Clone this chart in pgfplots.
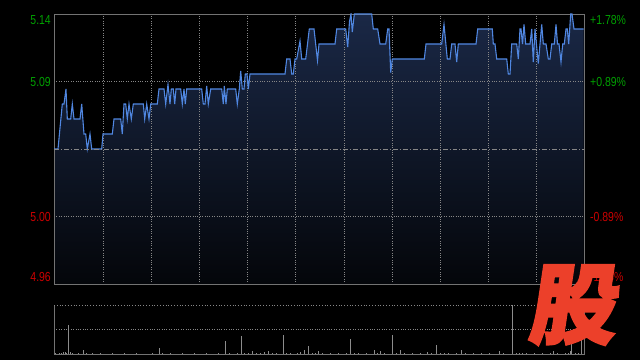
\documentclass[border=0pt]{standalone}
\usepackage{pgfplots}
\pgfplotsset{compat=1.18}
\usepgfplotslibrary{fillbetween}
\usepackage{fontspec}
\setmainfont{Liberation Sans}
\newfontfamily\cjk{Noto Sans CJK SC}[FakeBold=2.5]
\definecolor{upgreen}{RGB}{0,160,0}
\definecolor{downred}{RGB}{204,0,0}
\definecolor{pline}{RGB}{80,135,225}
\definecolor{gridc}{RGB}{135,135,135}
\definecolor{framec}{RGB}{115,115,115}
\definecolor{fillTop}{RGB}{26,40,70}
\definecolor{fillBot}{RGB}{4,6,10}
\definecolor{logored}{RGB}{236,64,42}
\definecolor{volc}{RGB}{140,140,140}
\pagecolor{black}

\begin{document}
\begin{tikzpicture}[x=1bp,y=1bp]
\begin{axis}[
  at={(54bp,76bp)}, anchor=south west,
  width=530bp, height=270bp, scale only axis,
  xmin=0, xmax=530, ymin=4.955, ymax=5.135,
  axis line style={framec, line width=0.8pt},
  xtick={49.3,97.7,145.3,193.3,241.7,290,338.3,386.3,434.3,482.7},
  xticklabels={}, ytick={5.00,5.09}, yticklabels={},
  major tick length=0pt,
  grid=major, grid style={gridc, dotted, line width=0.8pt},
]
\addplot[pline, line width=1.1pt, name path=P] coordinates {
(0,5.045) (4,5.045) (8.3,5.075) (10,5.075) (12,5.085) (13.3,5.065) (16.7,5.065)
(18.3,5.075) (20,5.065) (26,5.065) (27.7,5.075) (30,5.055) (31.7,5.055) (33.3,5.045)
(36,5.055) (37.7,5.045) (47.7,5.045) (49,5.055) (58.3,5.055) (60,5.065) (66.7,5.065)
(68.3,5.055) (70,5.075) (71.7,5.075) (73.3,5.065) (75,5.075) (77.3,5.065) (79.3,5.075)
(89.3,5.075) (90.7,5.065) (92.7,5.075) (95,5.065) (96.7,5.075) (103.3,5.075) (105,5.085)
(110,5.085) (111.7,5.075) (114,5.088) (116,5.075) (117.3,5.085) (119.3,5.085) (120.7,5.075)
(122,5.085) (126.7,5.085) (128.3,5.075) (130,5.085) (131.3,5.075) (132.7,5.085) (147.7,5.085)
(149.3,5.075) (151,5.075) (152.7,5.087) (154.3,5.075) (156.7,5.085) (167.7,5.085) (169.3,5.075)
(170.3,5.087) (172,5.075) (173.3,5.085) (181.7,5.085) (183.3,5.075) (185.3,5.085) (186.7,5.097)
(188.3,5.085) (190,5.085) (191.3,5.095) (193,5.095) (194.3,5.085) (196,5.095) (231,5.095)
(232.7,5.105) (236,5.105) (237.7,5.095) (239.3,5.095) (241,5.105) (242.7,5.105) (246,5.117)
(247.7,5.105) (251.7,5.105) (255.3,5.125) (260,5.125) (263.5,5.104) (265,5.115) (281,5.115)
(282.7,5.125) (291.7,5.125) (293.7,5.113) (295.5,5.130) (297,5.135) (298.3,5.123) (300.3,5.135)
(317.7,5.135) (319.3,5.125) (323.7,5.125) (326,5.115) (331.7,5.115) (333.7,5.125) (335,5.125)
(336.7,5.096) (338.3,5.105) (370.3,5.105) (372,5.115) (387.7,5.115) (390,5.128) (393.3,5.105)
(396,5.105) (397.7,5.115) (401,5.115) (402.7,5.103) (404.3,5.115) (422,5.115) (423.7,5.125)
(438.3,5.125) (439.3,5.115) (441,5.115) (442.7,5.105) (452.7,5.105) (454.3,5.095) (456,5.095)
(457.7,5.115) (462.7,5.115) (464.3,5.105) (466,5.125) (467,5.125) (468.5,5.115) (470,5.128)
(471.7,5.115) (476,5.115) (477.7,5.125) (479.3,5.103) (481,5.125) (484.3,5.102) (487.7,5.128)
(489.3,5.115) (492,5.115) (494.3,5.105) (496,5.105) (497.7,5.115) (500.3,5.115) (502,5.128)
(503.5,5.115) (505,5.115) (507,5.103) (508.7,5.115) (510.3,5.115) (512,5.125) (513.3,5.125)
(514.7,5.115) (516.7,5.135) (518,5.135) (520,5.125) (529.5,5.125)
};
\addplot[draw=none, name path=B] coordinates {(0,4.955) (529.5,4.955)};
\addplot[top color=fillTop, bottom color=fillBot, draw=none]
  fill between[of=P and B, on layer=axis background];
\draw[gridc, line width=0.9pt, dash pattern=on 5pt off 2pt on 1pt off 2pt]
  (axis cs:0,5.045) -- (axis cs:530,5.045);
\end{axis}

\begin{axis}[
  at={(54bp,5.5bp)}, anchor=south west,
  width=530bp, height=49.5bp, scale only axis,
  xmin=0, xmax=530, ymin=0, ymax=49.5,
  axis line style={draw=none},
  xtick=\empty, ytick={24.75}, yticklabels={},
  major tick length=0pt,
  ymajorgrids, grid style={gridc, dotted, line width=0.8pt},
  clip=false,
]
\addplot[ycomb, volc, line width=0.8pt, mark=none] coordinates {
(1,1.5) (3,1) (5,1.8) (7,1.2) (9,2.5) (11,3) (12.5,1.5) (14.3,30) (16,2.3) (18,1.5)
(21,1) (24,1.2) (27,1) (29.3,4.3) (32,1.5) (35,1) (38,1.2) (42,1) (46,1.2) (50,1)
(54,1) (58,1.2) (62,1) (66,1) (70,1.2) (74,1) (78,1) (82,1.2) (86,1) (90,1) (94,1)
(98,1.2) (102,1) (105.3,6.5) (108,1.5) (112,1) (116,1.2) (120,1) (124,1) (128,1.2)
(132,1) (136,1) (140,1.2) (144,1) (148,1) (152,1.2) (156,1) (160,1) (164,1.2) (168,1)
(171.3,13.3) (175,1.5) (179,1) (183,1.2) (187.3,18.3) (190,1.5) (194,1.2) (198.3,3.3)
(202,1.5) (206,1.2) (210.3,2.7) (214.3,3.3) (218,1.5) (222,1.2) (226,1) (229.3,19.3)
(232,1.5) (236,1.2) (240,1) (243,1.5) (246,2.7) (250,4.3) (254.3,8.3) (258,1.5)
(261,1.2) (264.3,3.3) (268,1.2) (272,1) (276,1.2) (280,1) (284,1.2) (288,1) (292,1.2)
(296.7,16) (300,1.5) (304,1.2) (308,1) (312,1.2) (316,1) (320.3,5) (323,1.2) (326.3,3.3)
(330,1.2) (334,1) (338.7,19.3) (342,1.5) (346.7,5) (350,1.2) (354,1) (358,1.2) (362,1)
(366,1.2) (370,1) (373.3,2.7) (377,1.2) (382,9.3) (386,1.2) (390,1.5) (394,1.2) (398,1)
(402,1.2) (407.7,5) (411,1.2) (415,1) (419,1.2) (423,1) (427,1.2) (431,1) (435,1.2)
(439,1) (445.3,4) (449,1.2) (453,1) (458.7,49.5) (462,1.5) (465,2) (468,1.5) (472,1.2)
(476,1) (480,1.2) (484,1) (488,1.2) (492,1) (496,1.2) (499.3,3.3) (503,1.2) (507,1)
(511,1.2) (514,2) (516,3.3) (517.7,22.7) (521,2) (524,1.5) (527.7,14.3)
};
\draw[framec, line width=0.8pt] (rel axis cs:0,1) -- (rel axis cs:0,0) -- (rel axis cs:1,0) -- (rel axis cs:1,1);
\draw[gridc, dotted, line width=0.8pt] (rel axis cs:0,1) -- (rel axis cs:1,1);
\end{axis}

% price labels
\begin{scope}[every node/.style={font=\fontsize{10.5}{12}\selectfont, yscale=1.25, transform shape, inner sep=0pt}]
\node[anchor=east, text=upgreen] at (51,340) {5.14};
\node[anchor=east, text=upgreen] at (51,278) {5.09};
\node[anchor=east, text=downred] at (51,143) {5.00};
\node[anchor=east, text=downred] at (51,83) {4.96};
\node[anchor=west, text=upgreen] at (590,340) {+1.78\%};
\node[anchor=west, text=upgreen] at (590,278) {+0.89\%};
\node[anchor=west, text=downred] at (590,143) {-0.89\%};
\node[anchor=west, text=downred] at (590,83) {-1.78\%};
\end{scope}
% watermark logo
\node[text=logored, font=\cjk\bfseries\fontsize{88}{88}\selectfont, xslant=0.15, inner sep=0pt] at (576,55) {股};
\pgfresetboundingbox
\path[use as bounding box] (0,0) rectangle (640,360);
\end{tikzpicture}
\end{document}
